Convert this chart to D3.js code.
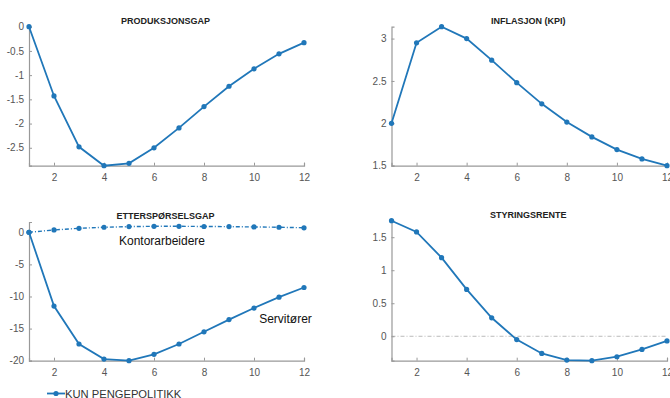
<!DOCTYPE html>
<html><head><meta charset="utf-8">
<script src="https://cdn.jsdelivr.net/npm/d3@7"></script>
<style>body{margin:0;background:#fff}svg{display:block}</style>
</head><body>
<svg id="c" width="670" height="398"></svg>
<script>
const periods = [1,2,3,4,5,6,7,8,9,10,11,12];
const xTicks = [2,4,6,8,10,12];
const produksjonsgap = [0,-1.43,-2.48,-2.87,-2.82,-2.5,-2.09,-1.65,-1.23,-0.87,-0.56,-0.33];
const inflasjon = [2.0,2.95,3.14,3.0,2.745,2.48,2.23,2.015,1.84,1.69,1.58,1.5];
const servitorer = [0,-11.5,-17.4,-19.75,-20.0,-19.0,-17.4,-15.5,-13.6,-11.8,-10.1,-8.6];
const kontorarbeidere = [0,0.36,0.62,0.78,0.88,0.93,0.93,0.9,0.88,0.83,0.78,0.7];
const styringsrente = [1.75,1.58,1.19,0.71,0.28,-0.05,-0.26,-0.36,-0.37,-0.31,-0.2,-0.07];
const yTicks1 = [0,-0.5,-1,-1.5,-2,-2.5];
const yTicks2 = [1.5,2,2.5,3];
const yTicks3 = [0,-5,-10,-15,-20];
const yTicks4 = [0,0.5,1,1.5];
const titles = ["PRODUKSJONSGAP","INFLASJON (KPI)","ETTERSPØRSELSGAP","STYRINGSRENTE"];
const legendLabel = "KUN PENGEPOLITIKK";
const seriesLabels = ["Kontorarbeidere","Servitører"];

const color = "#2077b9";
const svg = d3.select("#c");
const font = "Liberation Sans, Arial, sans-serif";

const panels = [
  {x0:29, x1:304, yTop:26.7, yBot:165.7, dom:[-2.87,0], ticks:yTicks1, title:titles[0], series:[{v:produksjonsgap}]},
  {x0:391.5, x1:667, yTop:26.7, yBot:165.7, dom:[1.5,3.14], ticks:yTicks2, title:titles[1], series:[{v:inflasjon}]},
  {x0:29, x1:304, yTop:222, yBot:360.7, dom:[-20,1.6], ticks:yTicks3, title:titles[2], series:[{v:servitorer},{v:kontorarbeidere, dash:"4,2,1,2"}]},
  {x0:391.5, x1:667, yTop:220.7, yBot:360.7, dom:[-0.37,1.75], ticks:yTicks4, title:titles[3], series:[{v:styringsrente}], zero:true}
];

panels.forEach((p,i)=>{
  const x = d3.scaleLinear().domain([1,12]).range([p.x0,p.x1]);
  const y = d3.scaleLinear().domain(p.dom).range([p.yBot,p.yTop]);
  const g = svg.append("g");
  g.append("text").attr("x",(p.x0+p.x1)/2 - 1).attr("y",p.yTop-3)
    .attr("text-anchor","middle").attr("font-family",font).attr("font-size",9)
    .attr("font-weight","bold").attr("fill","#222").text(p.title);
  if(p.zero){
    g.append("line").attr("x1",p.x0).attr("x2",p.x1).attr("y1",y(0)).attr("y2",y(0))
      .attr("stroke","#bbb").attr("stroke-width",1).attr("stroke-dasharray","4,2,1,2");
  }
  const xa = d3.axisBottom(x).tickValues(xTicks).tickSize(-3).tickPadding(8).tickFormat(d3.format("d"));
  const gx = g.append("g").attr("transform",`translate(0,${p.yBot})`).call(xa);
  const ya = d3.axisLeft(y).tickValues(p.ticks).tickSize(-3).tickPadding(5).tickFormat(d=>String(d));
  const gy = g.append("g").attr("transform",`translate(${p.x0},0)`).call(ya);
  [gx,gy].forEach(a=>{
    a.select(".domain").attr("stroke","#999").attr("stroke-width",1.2);
    a.selectAll(".tick line").attr("stroke","#999");
    a.selectAll(".tick text").attr("font-family",font).attr("font-size",10).attr("fill","#555");
  });
  p.series.forEach(s=>{
    const data = periods.map((d,k)=>[d,s.v[k]]);
    const line = d3.line().x(d=>x(d[0])).y(d=>y(d[1]));
    g.append("path").datum(data).attr("d",line).attr("fill","none")
      .attr("stroke",color).attr("stroke-width",s.dash?1.4:1.8)
      .attr("stroke-dasharray",s.dash||null);
    g.selectAll(null).data(data).enter().append("circle")
      .attr("cx",d=>x(d[0])).attr("cy",d=>y(d[1])).attr("r",2.6).attr("fill",color);
  });
  if(i===2){
    g.append("text").attr("x",x(6.32)).attr("y",y(-2.0)).attr("text-anchor","middle")
      .attr("font-family",font).attr("font-size",12).attr("fill","#111").text(seriesLabels[0]);
    g.append("text").attr("x",x(11.26)).attr("y",y(-14.2)).attr("text-anchor","middle")
      .attr("font-family",font).attr("font-size",12).attr("fill","#111").text(seriesLabels[1]);
  }
});

const lg = svg.append("g");
lg.append("line").attr("x1",47).attr("x2",65).attr("y1",393.5).attr("y2",393.5)
  .attr("stroke",color).attr("stroke-width",1.8);
lg.append("circle").attr("cx",56).attr("cy",393.5).attr("r",2.6).attr("fill",color);
lg.append("text").attr("x",65).attr("y",397.5).attr("font-family",font).attr("font-size",11.2)
  .attr("fill","#333").text(legendLabel);
</script>
</body></html>
